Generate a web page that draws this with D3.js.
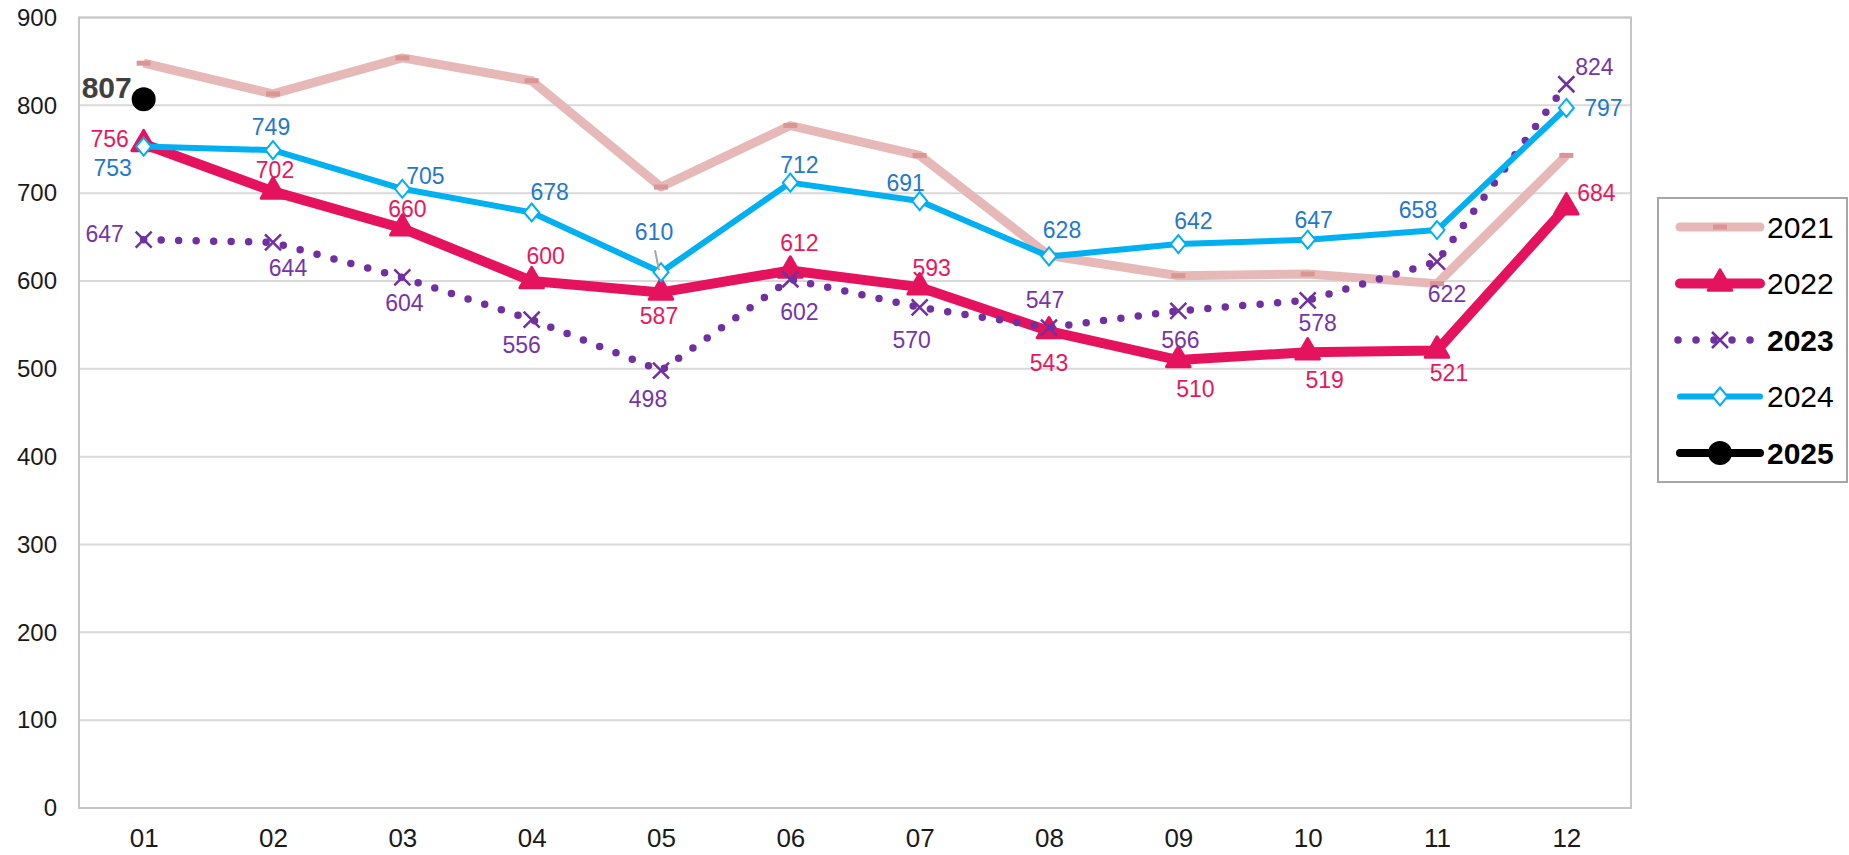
<!DOCTYPE html>
<html>
<head>
<meta charset="utf-8">
<script src="https://cdn.jsdelivr.net/npm/d3@7"></script>
<style>
  body { margin: 0; background: #fff; }
  svg { display: block; font-family: Arial, "Liberation Sans", sans-serif; }
</style>
</head>
<body>
<svg id="center" width="1849" height="855"></svg>
<script>
var months = ["01","02","03","04","05","06","07","08","09","10","11","12"];
var yTicks = [0,100,200,300,400,500,600,700,800,900];

var v2021 = [848,813,854,828,707,777,743,629,606,608,597,743];
var v2022 = [756,702,660,600,587,612,593,543,510,519,521,684];
var v2023 = [647,644,604,556,498,602,570,547,566,578,622,824];
var v2024 = [753,749,705,678,610,712,691,628,642,647,658,797];
var v2025 = [807];

// label offsets from the point [dx, dy]
var pos2022 = [[-34,-5],[2,-21],[5,-19],[14,-25],[-2,24],[9,-27],[12,-19],[0,32],[17,29],[17,28],[12,23],[30,-14]];
var pos2023 = [[-39,-6],[15,26],[2,26],[-10,25],[-13,28],[9,33],[-8,33],[-4,-28],[2,29],[10,23],[10,32],[28,-17]];
var pos2024 = [[-31,21],[-2,-23],[23,-13],[18,-20],[-7,-40],[9,-18],[-14,-18],[13,-26],[15,-23],[6,-20],[-19,-20],[37,0]];
var pos2025 = [[-37,-12]];

var margin = {top: 17.5, left: 79, right: 1631, bottom: 808};

var x = d3.scalePoint()
    .domain(months)
    .range([margin.left, margin.right])
    .padding(0.5);

var y = d3.scaleLinear().domain([0, 900]).range([margin.bottom, margin.top]);

var svg = d3.select("#center");

// gridlines
svg.append("g").selectAll("line")
    .data(yTicks.slice(1))
  .enter().append("line")
    .attr("x1", margin.left).attr("x2", margin.right)
    .attr("y1", function(d) { return y(d); })
    .attr("y2", function(d) { return y(d); })
    .style("stroke", "#D9D9D9")
    .style("stroke-width", 2);

svg.append("rect")
    .attr("x", margin.left).attr("y", margin.top)
    .attr("width", margin.right - margin.left)
    .attr("height", margin.bottom - margin.top)
    .style("fill", "none")
    .style("stroke", "#C6C6C6")
    .style("stroke-width", 2);

var yAxis = d3.axisLeft(y).tickValues(yTicks).tickSize(0).tickPadding(22);
var gy = svg.append("g")
    .attr("transform", "translate(" + margin.left + ",0)")
    .call(yAxis);
gy.select(".domain").remove();
gy.selectAll("text").style("font-size", "24px").style("fill", "#1a1a1a")
    .style("font-family", "Arial, 'Liberation Sans', sans-serif");

var xAxis = d3.axisBottom(x).tickSize(0).tickPadding(21);
var gx = svg.append("g")
    .attr("transform", "translate(0," + margin.bottom + ")")
    .call(xAxis);
gx.select(".domain").remove();
gx.selectAll("text").style("font-size", "26px").style("fill", "#1a1a1a")
    .style("font-family", "Arial, 'Liberation Sans', sans-serif");

var line = d3.line()
    .x(function(d, i) { return x(months[i]); })
    .y(function(d) { return y(d); });

// 2021
svg.append("path")
    .datum(v2021)
    .attr("d", line)
    .style("fill", "none")
    .style("stroke", "#E6B9B8")
    .style("stroke-width", 9)
    .style("stroke-linejoin", "round");
svg.append("g").selectAll("rect")
    .data(v2021)
  .enter().append("rect")
    .attr("x", function(d, i) { return x(months[i]) - 7; })
    .attr("y", function(d) { return y(d) - 2.5; })
    .attr("width", 14).attr("height", 5)
    .style("fill", "#D99694");

// 2022
svg.append("path")
    .datum(v2022)
    .attr("d", line)
    .style("fill", "none")
    .style("stroke", "#E5135E")
    .style("stroke-width", 10)
    .style("stroke-linejoin", "round");
svg.append("g").selectAll("path")
    .data(v2022)
  .enter().append("path")
    .attr("d", d3.symbol().type(d3.symbolTriangle).size(240))
    .attr("transform", function(d, i) { return "translate(" + x(months[i]) + "," + y(d) + ")"; })
    .style("fill", "#E5135E")
    .style("stroke", "#E5135E")
    .style("stroke-width", 3)
    .style("stroke-linejoin", "round");

// 2023
svg.append("path")
    .datum(v2023)
    .attr("d", line)
    .style("fill", "none")
    .style("stroke", "#7030A0")
    .style("stroke-width", 7.5)
    .style("stroke-dasharray", "0 17.5")
    .style("stroke-linecap", "round");
svg.append("g").selectAll("path")
    .data(v2023)
  .enter().append("path")
    .attr("d", "M-8,-8L8,8M-8,8L8,-8")
    .attr("transform", function(d, i) { return "translate(" + x(months[i]) + "," + y(d) + ")"; })
    .style("stroke", "#7030A0")
    .style("stroke-width", 2.5);

// 2024
svg.append("path")
    .datum(v2024)
    .attr("d", line)
    .style("fill", "none")
    .style("stroke", "#00B0F0")
    .style("stroke-width", 6)
    .style("stroke-linejoin", "round");
svg.append("g").selectAll("path")
    .data(v2024)
  .enter().append("path")
    .attr("d", "M0,-9L7.5,0L0,9L-7.5,0Z")
    .attr("transform", function(d, i) { return "translate(" + x(months[i]) + "," + y(d) + ")"; })
    .style("fill", "#fff")
    .style("stroke", "#00B0F0")
    .style("stroke-width", 2);

// 2025
svg.append("g").selectAll("circle")
    .data(v2025)
  .enter().append("circle")
    .attr("cx", function(d, i) { return x(months[i]); })
    .attr("cy", function(d) { return y(d); })
    .attr("r", 12)
    .style("fill", "#000");

// leader line for 05 of 2024
svg.append("line")
    .attr("x1", x("05") - 6).attr("y1", y(v2024[4]) - 22)
    .attr("x2", x("05") - 2).attr("y2", y(v2024[4]) - 2)
    .style("stroke", "#A6A6A6")
    .style("stroke-width", 2);

function labels(vals, pos, color, size, weight) {
  svg.append("g").selectAll("text")
      .data(vals)
    .enter().append("text")
      .attr("x", function(d, i) { return x(months[i]) + pos[i][0]; })
      .attr("y", function(d, i) { return y(d) + pos[i][1]; })
      .attr("text-anchor", "middle")
      .attr("dominant-baseline", "central")
      .style("font-size", size + "px")
      .style("font-weight", weight)
      .style("fill", color)
      .text(function(d) { return d; });
}
labels(v2022, pos2022, "#E8185E", 23, "normal");
labels(v2023, pos2023, "#7535A8", 23, "normal");
labels(v2024, pos2024, "#2478C8", 23, "normal");
labels(v2025, pos2025, "#404040", 30, "bold");

// legend
var legend = svg.append("g");
legend.append("rect")
    .attr("x", 1658).attr("y", 198)
    .attr("width", 189).attr("height", 284)
    .style("fill", "#fff")
    .style("stroke", "#A6A6A6")
    .style("stroke-width", 2);

var legendNames = ["2021","2022","2023","2024","2025"];
var ly = d3.scalePoint().domain(legendNames).range([227, 453]);
var lx1 = 1680, lx2 = 1760, lxm = 1720;

function legendLine(name, color, width) {
  return legend.append("line")
      .attr("x1", lx1).attr("x2", lx2)
      .attr("y1", ly(name)).attr("y2", ly(name))
      .style("stroke", color)
      .style("stroke-width", width)
      .style("stroke-linecap", "round");
}
legendLine("2021", "#E6B9B8", 9);
legend.append("rect").attr("x", lxm - 7).attr("y", ly("2021") - 2.5)
    .attr("width", 14).attr("height", 5).style("fill", "#D99694");

legendLine("2022", "#E5135E", 10);
legend.append("path")
    .attr("d", d3.symbol().type(d3.symbolTriangle).size(240))
    .attr("transform", "translate(" + lxm + "," + ly("2022") + ")")
    .style("fill", "#E5135E").style("stroke", "#E5135E").style("stroke-width", 3)
    .style("stroke-linejoin", "round");

legend.append("line")
    .attr("x1", lx1 - 2).attr("x2", lx2 + 4)
    .attr("y1", ly("2023")).attr("y2", ly("2023"))
    .style("stroke", "#7030A0").style("stroke-width", 7.5)
    .style("stroke-dasharray", "0 18").style("stroke-linecap", "round");
legend.append("path")
    .attr("d", "M-8,-8L8,8M-8,8L8,-8")
    .attr("transform", "translate(" + lxm + "," + ly("2023") + ")")
    .style("stroke", "#7030A0").style("stroke-width", 2.5);

legendLine("2024", "#00B0F0", 6);
legend.append("path")
    .attr("d", "M0,-9L7.5,0L0,9L-7.5,0Z")
    .attr("transform", "translate(" + lxm + "," + ly("2024") + ")")
    .style("fill", "#fff").style("stroke", "#00B0F0").style("stroke-width", 2);

legendLine("2025", "#000", 8);
legend.append("circle").attr("cx", lxm).attr("cy", ly("2025")).attr("r", 12).style("fill", "#000");

legend.selectAll("text.lg")
    .data(legendNames)
  .enter().append("text")
    .attr("class", "lg")
    .attr("x", 1767)
    .attr("y", function(d) { return ly(d); })
    .attr("dominant-baseline", "central")
    .style("font-size", "30px")
    .style("font-weight", function(d) { return (d === "2023" || d === "2025") ? "bold" : "normal"; })
    .style("fill", "#000")
    .text(function(d) { return d; });
</script>
</body>
</html>
